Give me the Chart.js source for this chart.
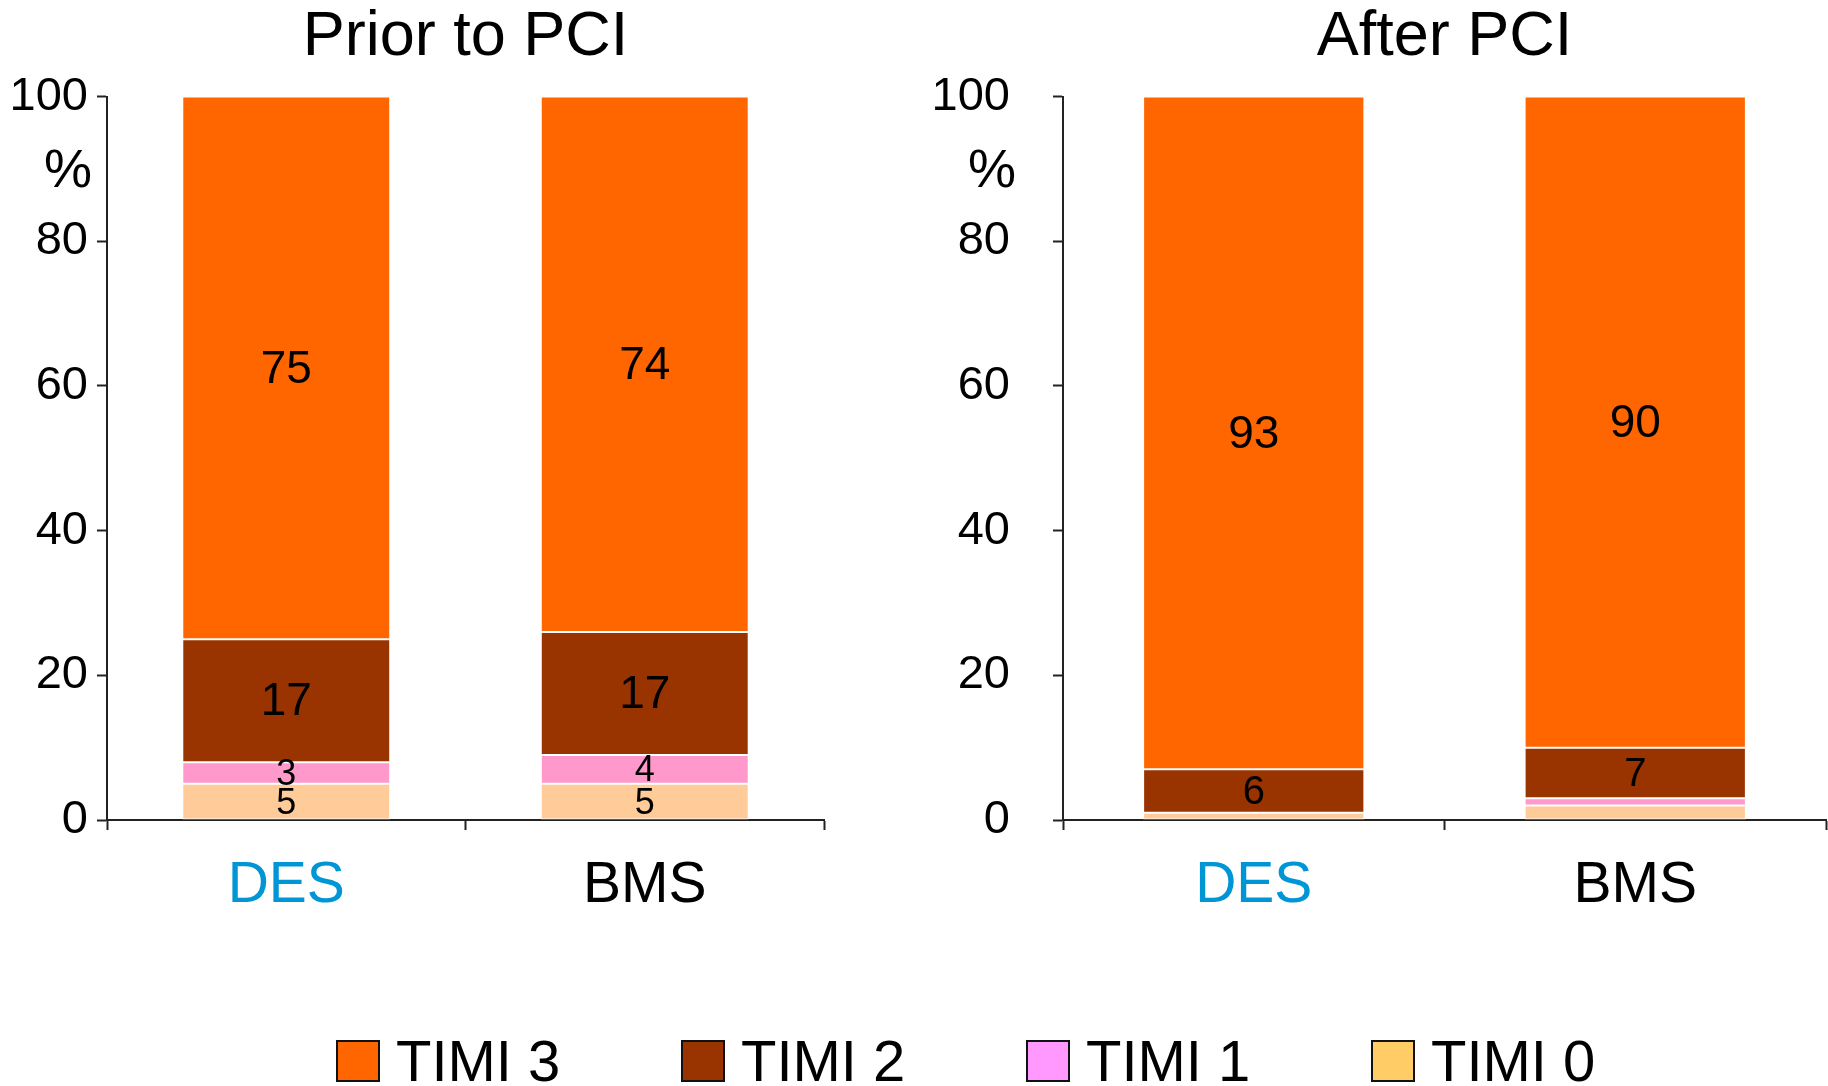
<!DOCTYPE html>
<html>
<head>
<meta charset="utf-8">
<script src="https://cdn.jsdelivr.net/npm/chart.js@4/dist/chart.umd.min.js"></script>
<style>
    html, body {
        margin: 0;
        padding: 0;
        background: #ffffff;
    }

    body {
        width: 1828px;
        height: 1086px;
        position: relative;
        overflow: hidden;
        font-family: "Liberation Sans", Arial, sans-serif;
    }

    #priorChart {
        position: absolute;
        left: 0;
        top: 0;
    }

    #afterChart {
        position: absolute;
        left: 900px;
        top: 0;
    }

    .legend {
        position: absolute;
        left: 336px;
        top: 1030px;
        display: flex;
    }

    .legend-item {
        width: 345px;
        display: flex;
        align-items: center;
    }

    .legend-box {
        width: 40px;
        height: 38px;
        border: 2px solid #111111;
        flex: none;
    }

    .legend-text {
        margin-left: 16px;
        font-size: 58px;
        line-height: 62px;
        color: #000000;
    }
</style>
</head>
<body>
<canvas id="priorChart" width="840" height="930"></canvas>
<canvas id="afterChart" width="928" height="930"></canvas>
<div class="legend" id="legend"></div>

<script>
const categories = ["DES", "BMS"];
const categoryColors = ["#0096d6", "#000000"];

const seriesNames = ["TIMI 0", "TIMI 1", "TIMI 2", "TIMI 3"];
const barColors = ["#ffcc99", "#ff99cc", "#993300", "#ff6600"];
const legendColors = ["#ffcc66", "#ff99ff", "#993300", "#ff6600"];

const priorTimi0 = [5, 5];
const priorTimi1 = [3, 4];
const priorTimi2 = [17, 17];
const priorTimi3 = [75, 74];

const afterTimi0 = [1, 2];
const afterTimi1 = [0, 1];
const afterTimi2 = [6, 7];
const afterTimi3 = [93, 90];

const yTicks = [0, 20, 40, 60, 80, 100];

Chart.defaults.font.family = "'Liberation Sans', Arial, sans-serif";
Chart.defaults.color = "#000000";

// values inside the bars; tiny segments stay unlabelled
const segmentLabels = {
    id: "segmentLabels",
    afterDatasetsDraw(chart) {
        const ctx = chart.ctx;
        ctx.save();
        ctx.fillStyle = "#000000";
        ctx.textAlign = "center";
        ctx.textBaseline = "middle";
        chart.data.datasets.forEach((dataset, datasetIndex) => {
            const meta = chart.getDatasetMeta(datasetIndex);
            meta.data.forEach((bar, index) => {
                const value = dataset.data[index];
                if (value < 3) {
                    return;
                }
                const size = value >= 10 ? 46 : (value >= 6 ? 40 : 36);
                ctx.font = `${size}px 'Liberation Sans', Arial, sans-serif`;
                ctx.fillText(String(value), bar.x, (bar.y + bar.base) / 2 + 2);
            });
        });
        ctx.restore();
    }
};

// "%" unit written beside the y axis, between 100 and 80
const percentSign = {
    id: "percentSign",
    afterDraw(chart) {
        const ctx = chart.ctx;
        const yScale = chart.scales.y;
        const gap = chart.options.plugins.percentSign.gap;
        ctx.save();
        ctx.fillStyle = "#000000";
        ctx.font = "54px 'Liberation Sans', Arial, sans-serif";
        ctx.textAlign = "right";
        ctx.textBaseline = "middle";
        ctx.fillText("%", chart.chartArea.left - gap, yScale.getPixelForValue(89.5));
        ctx.restore();
    }
};

function buildChart(canvasId, title, seriesValues, axisWidth, rightPadding, labelPadding, percentGap) {
    const datasets = seriesValues.map((values, index) => ({
        label: seriesNames[index],
        data: values,
        backgroundColor: barColors[index],
        borderColor: "#ffffff",
        borderWidth: 1,
        borderSkipped: false,
        barPercentage: 0.58,
        categoryPercentage: 1
    }));

    return new Chart(document.getElementById(canvasId), {
        type: "bar",
        data: {
            labels: categories,
            datasets
        },
        options: {
            responsive: false,
            animation: false,
            layout: {
                padding: { top: 0, left: 0, right: rightPadding, bottom: 8 }
            },
            plugins: {
                legend: { display: false },
                tooltip: { enabled: false },
                percentSign: { gap: percentGap },
                title: {
                    display: true,
                    text: title,
                    fullSize: false,
                    color: "#000000",
                    font: { size: 63, weight: "normal" },
                    padding: { top: 0, bottom: 21 }
                }
            },
            scales: {
                x: {
                    stacked: true,
                    afterFit(scale) {
                        scale.height = 102;
                    },
                    border: { display: true, color: "#222222", width: 2 },
                    grid: {
                        offset: true,
                        drawOnChartArea: false,
                        drawTicks: true,
                        tickLength: 10,
                        tickColor: "#222222",
                        tickWidth: 2
                    },
                    ticks: {
                        color: categoryColors,
                        padding: 22,
                        font: { size: 57 }
                    }
                },
                y: {
                    stacked: true,
                    min: 0,
                    max: 100,
                    afterFit(scale) {
                        scale.width = axisWidth;
                    },
                    afterBuildTicks(scale) {
                        scale.ticks = yTicks.map((value) => ({ value }));
                    },
                    border: { display: true, color: "#222222", width: 2 },
                    grid: {
                        drawOnChartArea: false,
                        drawTicks: true,
                        tickLength: 10,
                        tickColor: "#222222",
                        tickWidth: 2
                    },
                    ticks: {
                        padding: labelPadding,
                        color: "#000000",
                        font: { size: 47 }
                    }
                }
            }
        },
        plugins: [segmentLabels, percentSign]
    });
}

function buildLegend() {
    const legend = document.getElementById("legend");
    for (let index = seriesNames.length - 1; index >= 0; index--) {
        const item = document.createElement("div");
        item.className = "legend-item";
        const box = document.createElement("div");
        box.className = "legend-box";
        box.style.background = legendColors[index];
        const text = document.createElement("span");
        text.className = "legend-text";
        text.textContent = seriesNames[index];
        item.appendChild(box);
        item.appendChild(text);
        legend.appendChild(item);
    }
}

buildChart("priorChart", "Prior to PCI", [priorTimi0, priorTimi1, priorTimi2, priorTimi3], 107, 16, 9, 15);
buildChart("afterChart", "After PCI", [afterTimi0, afterTimi1, afterTimi2, afterTimi3], 163, 2, 43, 47);
buildLegend();
</script>
</body>
</html>
